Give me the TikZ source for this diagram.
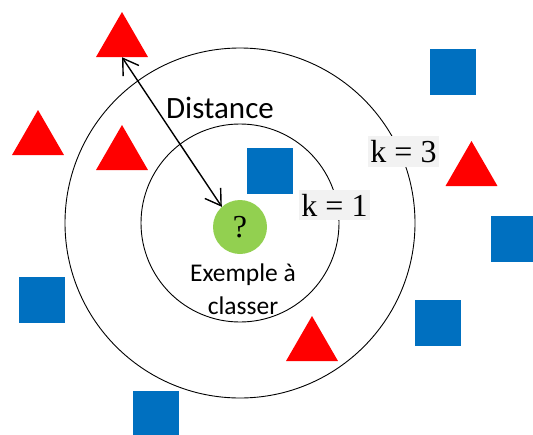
\documentclass[tikz,border=0pt]{standalone}
\usepackage{fontspec}
\setmainfont{Liberation Serif}
\newfontfamily\calib{Carlito}
\usepackage{tikz}
\usetikzlibrary{arrows.meta,shapes.geometric}
\definecolor{cred}{HTML}{FF0000}
\definecolor{cblue}{HTML}{0070C0}
\definecolor{cgreen}{HTML}{92D050}
\definecolor{cbox}{HTML}{F2F2F2}
\tikzset{
  tri/.style={regular polygon, regular polygon sides=3, minimum size=60pt, inner sep=0pt, fill=cred},
  sq/.style={rectangle, minimum size=46pt, inner sep=0pt, fill=cblue},
  query/.style={circle, minimum size=54pt, inner sep=0pt, fill=cgreen, font=\fontsize{32}{34}\selectfont},
  ring/.style={draw=black, line width=0.9pt},
  kbox/.style={fill=cbox, inner xsep=2pt, inner ysep=4pt, font=\fontsize{32}{34}\selectfont},
  lbl/.style={font=\calib\fontsize{25.5}{33}\selectfont, align=center, inner sep=0pt},
  dist/.style={<->, >={Straight Barb[length=15pt, width=19pt]}, line width=1.4pt},
}
\begin{document}
\begin{tikzpicture}[x=1pt,y=-1pt]
\useasboundingbox (0,0) rectangle (533,434);
\coordinate (c) at (240,223);
% the two neighbourhoods
\draw[ring] (c) circle[radius=99];
\draw[ring] (c) circle[radius=175];
% class A
\node[tri] (t1) at (122,42) {};
\node[tri] (t2) at (122,155) {};
\node[tri] (t3) at (38,140) {};
\node[tri] (t4) at (471.5,171) {};
\node[tri] (t5) at (312,346) {};
% class B
\node[sq] (s1) at (270,170.5) {};
\node[sq] (s2) at (453,72) {};
\node[sq] (s3) at (514,239) {};
\node[sq] (s4) at (438,323) {};
\node[sq] (s5) at (42,300) {};
\node[sq] (s6) at (156,414) {};
% the point to classify
\node[query] (q) at (240,227) {?};
\node[lbl] (ql) at (243,289) {Exemple à\\classer};
\draw[dist] (t1.south) -- (q.132);
\node[font=\calib\fontsize{31}{33}\selectfont, inner sep=0pt] (dl) at (220,108) {Distance};
\node[kbox] (k1) at (334.5,205) {k = 1};
\node[kbox] (k3) at (403.5,151.5) {k = 3};
\end{tikzpicture}
\end{document}
